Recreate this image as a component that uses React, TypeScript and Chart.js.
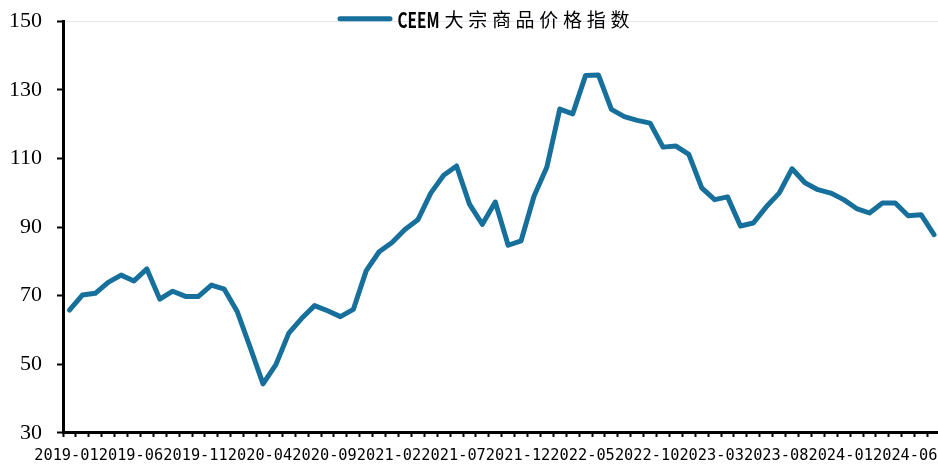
import { useEffect, useRef } from 'react';
import { Chart, registerables } from 'chart.js';

Chart.register(...registerables);

const months: string[] = [
  '2019-01', '2019-02', '2019-03', '2019-04', '2019-05', '2019-06', '2019-07', '2019-08', '2019-09', '2019-10', '2019-11', '2019-12',
  '2020-01', '2020-02', '2020-03', '2020-04', '2020-05', '2020-06', '2020-07', '2020-08', '2020-09', '2020-10', '2020-11', '2020-12',
  '2021-01', '2021-02', '2021-03', '2021-04', '2021-05', '2021-06', '2021-07', '2021-08', '2021-09', '2021-10', '2021-11', '2021-12',
  '2022-01', '2022-02', '2022-03', '2022-04', '2022-05', '2022-06', '2022-07', '2022-08', '2022-09', '2022-10', '2022-11', '2022-12',
  '2023-01', '2023-02', '2023-03', '2023-04', '2023-05', '2023-06', '2023-07', '2023-08', '2023-09', '2023-10', '2023-11', '2023-12',
  '2024-01', '2024-02', '2024-03', '2024-04', '2024-05', '2024-06', '2024-07', '2024-08',
];

const ceemIndex: number[] = [
  65.8, 70.2, 70.7, 73.9, 76.0, 74.3, 77.8, 69.0, 71.3, 69.8, 69.8, 73.1,
  71.9, 65.4, 55.0, 44.3, 49.9, 59.1, 63.4, 67.1, 65.6, 63.9, 66.0, 77.3,
  82.8, 85.5, 89.3, 92.1, 99.9, 105.1, 107.8, 96.7, 90.8, 97.3, 84.7, 86.0,
  99.0, 107.5, 124.4, 123.0, 134.2, 134.3, 124.3, 122.2, 121.1, 120.3, 113.3, 113.6,
  111.2, 101.4, 98.0, 98.8, 90.3, 91.2, 95.9, 99.9, 107.0, 102.9, 100.9, 99.9,
  98.0, 95.4, 94.1, 97.0, 97.0, 93.3, 93.6, 87.8,
];

const seriesName = 'CEEM大宗商品价格指数';
const labelEvery = 5;
const yMin = 30;
const yMax = 150;
const yStep = 20;

const lineColor = '#17709c';

const legendPlugin = {
  id: 'ceemLegend',
  afterDraw(chart: any) {
    const ctx = chart.ctx as CanvasRenderingContext2D;
    const ds = chart.data.datasets[0];
    const area = chart.chartArea;
    const label: string = ds.label;
    const m = label.match(/^([A-Za-z]+)(.*)$/);
    const latin = m ? m[1] : '';
    const cjk = m ? m[2] : label;
    const cy = area.top - 2.5;
    const x0 = area.left + 274.5;
    ctx.save();
    ctx.strokeStyle = ds.borderColor;
    ctx.lineWidth = 5;
    ctx.lineCap = 'round';
    ctx.beginPath();
    ctx.moveTo(x0 + 2.5, cy);
    ctx.lineTo(x0 + 52.5, cy);
    ctx.stroke();

    ctx.fillStyle = '#000';
    ctx.textBaseline = 'middle';
    ctx.textAlign = 'left';
    ctx.font = "bold 21px 'Noto Sans CJK SC', sans-serif";
    const lw = ctx.measureText(latin).width;
    const targetW = 42;
    ctx.save();
    ctx.translate(x0 + 60, cy + 1);
    ctx.scale(targetW / lw, 1);
    ctx.fillText(latin, 0, 0);
    ctx.restore();
    ctx.font = "19px 'Noto Sans CJK SC', sans-serif";
    (ctx as any).letterSpacing = '4.7px';
    ctx.fillText(cjk, x0 + 107, cy + 1);
    ctx.restore();
  },
};

export default function App() {
  const ref = useRef<HTMLCanvasElement>(null);

  useEffect(() => {
    if (!ref.current) return;
    const chart = new Chart(ref.current, {
      type: 'line',
      data: {
        labels: months,
        datasets: [
          {
            label: seriesName,
            data: ceemIndex,
            borderColor: lineColor,
            backgroundColor: lineColor,
            borderWidth: 5,
            pointRadius: 0,
            tension: 0,
            borderJoinStyle: 'round',
            borderCapStyle: 'round',
            fill: false,
          },
        ],
      },
      options: {
        responsive: false,
        animation: false,
        layout: { padding: { left: -6, top: 0, right: 0, bottom: -11.3 } },
        plugins: {
          legend: { display: false },
          tooltip: { enabled: false },
        },
        scales: {
          x: {
            type: 'category',
            offset: true,
            grid: {
              offset: true,
              drawOnChartArea: false,
              drawTicks: true,
              tickLength: 4,
              tickWidth: 2,
              tickColor: '#000',
            },
            border: { color: '#000', width: 3 },
            ticks: {
              autoSkip: false,
              maxRotation: 0,
              minRotation: 0,
              padding: 10,
              labelOffset: -3,
              color: '#000',
              font: { family: "'DejaVu Sans Mono', monospace", size: 15.3 },
              callback: (_v: any, i: number) => (i % labelEvery === 0 ? months[i] : ''),
            },
          },
          y: {
            min: yMin,
            max: yMax,
            grid: {
              drawTicks: true,
              tickLength: 6,
              tickWidth: 2,
              tickColor: '#000',
              lineWidth: 1,
              color: (c: any) => (c.tick && c.tick.value === yMax ? '#e2e7f1' : 'rgba(0,0,0,0)'),
            },
            border: { color: '#000', width: 3 },
            ticks: {
              stepSize: yStep,
              padding: 15,
              color: '#000',
              font: { family: "'Liberation Serif', serif", size: 22 },
            },
          },
        },
      },
      plugins: [legendPlugin],
    });
    return () => chart.destroy();
  }, []);

  return (
    <div
      style={{
        position: 'absolute',
        left: 0,
        top: 0,
        width: 938,
        height: 464,
        overflow: 'hidden',
        background: '#fff',
      }}
    >
      <canvas ref={ref} width={944} height={471} style={{ display: 'block', marginTop: -7 }} />
    </div>
  );
}
